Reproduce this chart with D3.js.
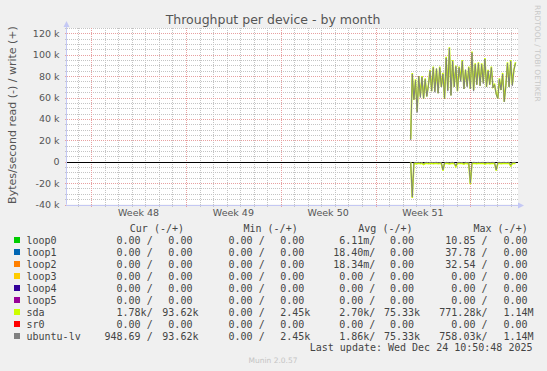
<!DOCTYPE html>
<html>
<head>
<meta charset="UTF-8">
<title>Throughput per device - by month</title>
<script src="https://cdn.jsdelivr.net/npm/d3@7"></script>
<style>
  body { margin: 0; background: #f0f0f0; }
  text { white-space: pre; }
</style>
</head>
<body>
<script>
// ---- data (values in k bytes / second) ----
var devices = ["loop0", "loop1", "loop2", "loop3", "loop4", "loop5", "sda", "sr0", "ubuntu-lv"];
var deviceColors = ["#00cc00", "#0066b3", "#ff8000", "#ffcc00", "#330099", "#990099", "#ccff00", "#ff0000", "#808080"];

var curRead  = ["  0.00 /", "  0.00 /", "  0.00 /", "  0.00 /", "  0.00 /", "  0.00 /", "  1.78k/", "  0.00 /", "948.69 /"];
var curWrite = ["  0.00 ", "  0.00 ", "  0.00 ", "  0.00 ", "  0.00 ", "  0.00 ", " 93.62k", "  0.00 ", " 93.62k"];
var minRead  = ["  0.00 /", "  0.00 /", "  0.00 /", "  0.00 /", "  0.00 /", "  0.00 /", "  0.00 /", "  0.00 /", "  0.00 /"];
var minWrite = ["  0.00 ", "  0.00 ", "  0.00 ", "  0.00 ", "  0.00 ", "  0.00 ", "  2.45k", "  0.00 ", "  2.45k"];
var avgRead  = ["  6.11m/", " 18.40m/", " 18.34m/", "  0.00 /", "  0.00 /", "  0.00 /", "  2.70k/", "  0.00 /", "  1.86k/"];
var avgWrite = ["  0.00 ", "  0.00 ", "  0.00 ", "  0.00 ", "  0.00 ", "  0.00 ", " 75.33k", "  0.00 ", " 75.33k"];
var maxRead  = [" 10.85 /", " 37.78 /", " 32.54 /", "  0.00 /", "  0.00 /", "  0.00 /", "771.28k/", "  0.00 /", "758.03k/"];
var maxWrite = ["  0.00 ", "  0.00 ", "  0.00 ", "  0.00 ", "  0.00 ", "  0.00 ", "  1.14M", "  0.00 ", "  1.14M"];

var sdaWrite = [21, 83, 58, 77, 47, 80, 61, 80, 59, 78, 61, 72, 86, 66, 89, 66, 87, 64, 89, 70,
                83, 59, 98, 67, 107, 62, 95, 70, 90, 66, 89, 76, 95, 68, 86, 71, 89, 68, 103, 67,
                92, 72, 93, 71, 92, 74, 97, 70, 86, 72, 89, 70, 72, 64, 59, 78, 67, 83, 56, 72,
                93, 70, 95, 72, 86, 93];
var lvWrite  = [20, 82, 58, 76, 46, 80, 60, 79, 59, 77, 61, 71, 85, 66, 88, 65, 87, 64, 88, 70,
                82, 59, 97, 66, 106, 62, 94, 70, 89, 66, 88, 75, 94, 68, 86, 70, 88, 68, 102, 66,
                91, 72, 92, 71, 91, 73, 96, 70, 85, 72, 88, 69, 72, 63, 59, 77, 67, 82, 56, 71,
                92, 70, 94, 71, 86, 92];
var sdaRead  = [0.4, 34, 2.1, 1.6, 1.8, 1.4, 1.9, 1.5, 2.6, 1.7, 1.5, 1.9, 1.6, 1.4, 1.8, 1.6, 1.5, 1.9, 1.7, 1.6,
                8.4, 1.8, 1.5, 1.7, 2.0, 1.6, 1.4, 1.8, 4.7, 1.6, 1.5, 1.7, 1.6, 2.3, 1.5, 1.8, 1.6, 21, 1.9, 1.5,
                1.6, 1.8, 1.5, 1.7, 1.6, 1.4, 2.2, 1.7, 1.5, 1.8, 1.6, 1.5, 1.7, 8.4, 1.6, 1.5, 1.8, 1.6, 1.5, 1.7,
                1.6, 1.4, 4.0, 1.7, 1.5, 1.6];
var lvRead   = [0.2, 33, 1.0, 0.7, 0.9, 0.6, 1.0, 0.7, 1.6, 0.8, 0.6, 0.9, 0.7, 0.6, 0.9, 0.7, 0.6, 1.0, 0.8, 0.7,
                7.6, 0.9, 0.6, 0.8, 1.1, 0.7, 0.6, 0.9, 3.9, 0.7, 0.6, 0.8, 0.7, 1.4, 0.6, 0.9, 0.7, 20, 1.0, 0.6,
                0.7, 0.9, 0.6, 0.8, 0.7, 0.6, 1.3, 0.8, 0.6, 0.9, 0.7, 0.6, 0.8, 7.6, 0.7, 0.6, 0.9, 0.7, 0.6, 0.8,
                0.7, 0.6, 3.2, 0.8, 0.6, 0.7];

var firstSample = new Date("2025-12-16T14:15:00Z");
var stepHours = 2.86;

var yTicks = [-40, -20, 0, 20, 40, 60, 80, 100, 120];
var weekLabels = ["Week 48", "Week 49", "Week 50", "Week 51"];
var weekStarts = ["2025-11-23", "2025-11-30", "2025-12-07", "2025-12-14", "2025-12-21"];

// ---- layout ----
var w = 547, h = 371;
var area = { left: 67, right: 518, top: 28, bottom: 204.5 };

var x = d3.scaleUtc()
  .domain([new Date("2025-11-21T05:04:00Z"), new Date("2025-12-24T12:30:00Z")])
  .range([area.left, area.right]);
var y = d3.scaleLinear()
  .domain([-40, 125])
  .range([area.bottom, area.top]);

function px(v) { return Math.round(v) + 0.5; }

var svg = d3.select("body").append("svg")
  .attr("width", w).attr("height", h)
  .style("display", "block")
  .style("font-family", "'DejaVu Sans', sans-serif");

svg.append("rect").attr("width", w).attr("height", h).attr("fill", "#f0f0f0");
svg.append("rect")
  .attr("x", area.left).attr("y", area.top)
  .attr("width", area.right - area.left).attr("height", area.bottom - area.top)
  .attr("fill", "#ffffff");

var grid = svg.append("g").attr("shape-rendering", "crispEdges");

// minor horizontal (5k)
var minorY = d3.range(-35, 126, 5).filter(function(d) { return d % 20 !== 0; });
grid.selectAll(".hmin").data(minorY).enter().append("line")
  .attr("x1", area.left - 2).attr("x2", area.right)
  .attr("y1", function(d) { return px(y(d)); }).attr("y2", function(d) { return px(y(d)); })
  .attr("stroke", "#c4c4c4").attr("stroke-dasharray", "1,1");

// days
var days = d3.utcDay.range(x.domain()[0], x.domain()[1]).filter(function(d) { return d.getUTCDay() !== 0; });
grid.selectAll(".vmin").data(days).enter().append("line")
  .attr("x1", function(d) { return px(x(d)); }).attr("x2", function(d) { return px(x(d)); })
  .attr("y1", area.top).attr("y2", area.bottom + 2)
  .attr("stroke", "#c4c4c4").attr("stroke-dasharray", "1,1");

// major horizontal
grid.selectAll(".hmaj").data(yTicks).enter().append("line")
  .attr("x1", area.left - 2).attr("x2", area.right)
  .attr("y1", function(d) { return px(y(d)); }).attr("y2", function(d) { return px(y(d)); })
  .attr("stroke", "#e8a0a0").attr("stroke-dasharray", "1,1");

// weeks
grid.selectAll(".vmaj").data(weekStarts).enter().append("line")
  .attr("x1", function(d) { return px(x(new Date(d + "T00:00:00Z"))); })
  .attr("x2", function(d) { return px(x(new Date(d + "T00:00:00Z"))); })
  .attr("y1", area.top).attr("y2", area.bottom + 2)
  .attr("stroke", "#e8a0a0").attr("stroke-dasharray", "1,1");

// axes
var axisColor = "#c4c8f4";
svg.append("line").attr("x1", area.left - 0.5).attr("x2", area.left - 0.5)
  .attr("y1", area.bottom).attr("y2", area.top - 5).attr("stroke", axisColor);
svg.append("path").attr("d", "M" + (area.left - 3.5) + "," + (area.top - 1) + "L" + (area.left - 0.5) + "," + (area.top - 7) + "L" + (area.left + 2.5) + "," + (area.top - 1) + "Z")
  .attr("fill", axisColor);
svg.append("line").attr("x1", area.left - 1).attr("x2", area.right + 4)
  .attr("y1", px(area.bottom)).attr("y2", px(area.bottom)).attr("stroke", axisColor);
svg.append("path").attr("d", "M" + (area.right) + "," + (px(area.bottom) - 3) + "L" + (area.right + 6) + "," + px(area.bottom) + "L" + (area.right) + "," + (px(area.bottom) + 3) + "Z")
  .attr("fill", axisColor);

// y tick labels
svg.selectAll(".ylab").data(yTicks).enter().append("text")
  .attr("x", 59.5).attr("y", function(d) { return y(d) + 3.5; })
  .attr("text-anchor", "end").attr("font-size", "9.5px").attr("fill", "#555")
  .text(function(d) { return d === 0 ? "0" : d + " k"; });

// week labels
svg.selectAll(".wlab").data(weekLabels).enter().append("text")
  .attr("x", function(d, i) { return x(d3.utcHour.offset(new Date(weekStarts[i] + "T00:00:00Z"), 84)); })
  .attr("y", 216)
  .attr("text-anchor", "middle").attr("font-size", "9.5px").attr("fill", "#555")
  .text(function(d) { return d; });

// zero rule
svg.append("line").attr("x1", area.left).attr("x2", area.right)
  .attr("y1", px(y(0))).attr("y2", px(y(0))).attr("stroke", "#000");

// series
function series(vals, sign) {
  return vals.map(function(v, i) {
    return { t: d3.timeMillisecond.offset(firstSample, i * stepHours * 3600000), v: sign * v };
  });
}
var line = d3.line().x(function(d) { return x(d.t); }).y(function(d) { return y(d.v); });

var plots = svg.append("g").attr("fill", "none");
plots.append("path").attr("d", line(series(sdaRead, -1))).attr("stroke", "#ccff00").attr("stroke-width", 1.6);
plots.append("path").attr("d", line(series(sdaWrite, 1))).attr("stroke", "#ccff00").attr("stroke-width", 1.6);
plots.append("path").attr("d", line(series(lvRead, -1))).attr("stroke", "#808080").attr("stroke-width", 1);
plots.append("path").attr("d", line(series(lvWrite, 1))).attr("stroke", "#808080").attr("stroke-width", 1);

// title and side texts
svg.append("text").attr("x", 273).attr("y", 24.3).attr("text-anchor", "middle")
  .attr("font-size", "12.5px").attr("fill", "#555").text("Throughput per device - by month");

svg.append("text").attr("transform", "translate(15.5,115) rotate(-90)")
  .attr("text-anchor", "middle").attr("font-size", "11px").attr("fill", "#555")
  .text("Bytes/second read (-) / write (+)");

svg.append("text").attr("transform", "translate(535,5) rotate(90)")
  .attr("text-anchor", "start").attr("font-size", "7.5px").attr("fill", "#c8c8c8")
  .text("RRDTOOL / TOBI OETIKER");

// legend
var mono = "'DejaVu Sans Mono', monospace";
var legend = svg.append("g").style("font-family", mono).attr("font-size", "10px").attr("fill", "#444");

var headers = [["Cur (-/+)", 129.8], ["Min (-/+)", 243.5], ["Avg (-/+)", 358.3], ["Max (-/+)", 473.5]];
legend.selectAll(".hdr").data(headers).enter().append("text")
  .attr("x", function(d) { return d[1]; }).attr("y", 231.6)
  .text(function(d) { return d[0]; });

var cols = [[curRead, 104.5], [curWrite, 156.3], [minRead, 216.5], [minWrite, 268.2],
            [avgRead, 327.2], [avgWrite, 378], [maxRead, 439.3], [maxWrite, 491.5]];

var rows = legend.selectAll(".row").data(devices).enter().append("g")
  .attr("transform", function(d, i) { return "translate(0," + (240 + i * 12) + ")"; });

rows.append("rect").attr("x", 14).attr("y", -3).attr("width", 6).attr("height", 6)
  .attr("fill", function(d, i) { return deviceColors[i]; });
rows.append("text").attr("x", 26.5).attr("y", 3.6).text(function(d) { return d; });
cols.forEach(function(c) {
  rows.append("text").attr("x", c[1]).attr("y", 3.6)
    .text(function(d, i) { return c[0][i]; });
});

legend.append("text").attr("x", 532.5).attr("y", 351).attr("text-anchor", "end")
  .text("Last update: Wed Dec 24 10:50:48 2025");

svg.append("text").attr("x", 273).attr("y", 362.7).attr("text-anchor", "middle")
  .attr("font-size", "7.5px").attr("fill", "#c4c4c4").text("Munin 2.0.57");
</script>
</body>
</html>
